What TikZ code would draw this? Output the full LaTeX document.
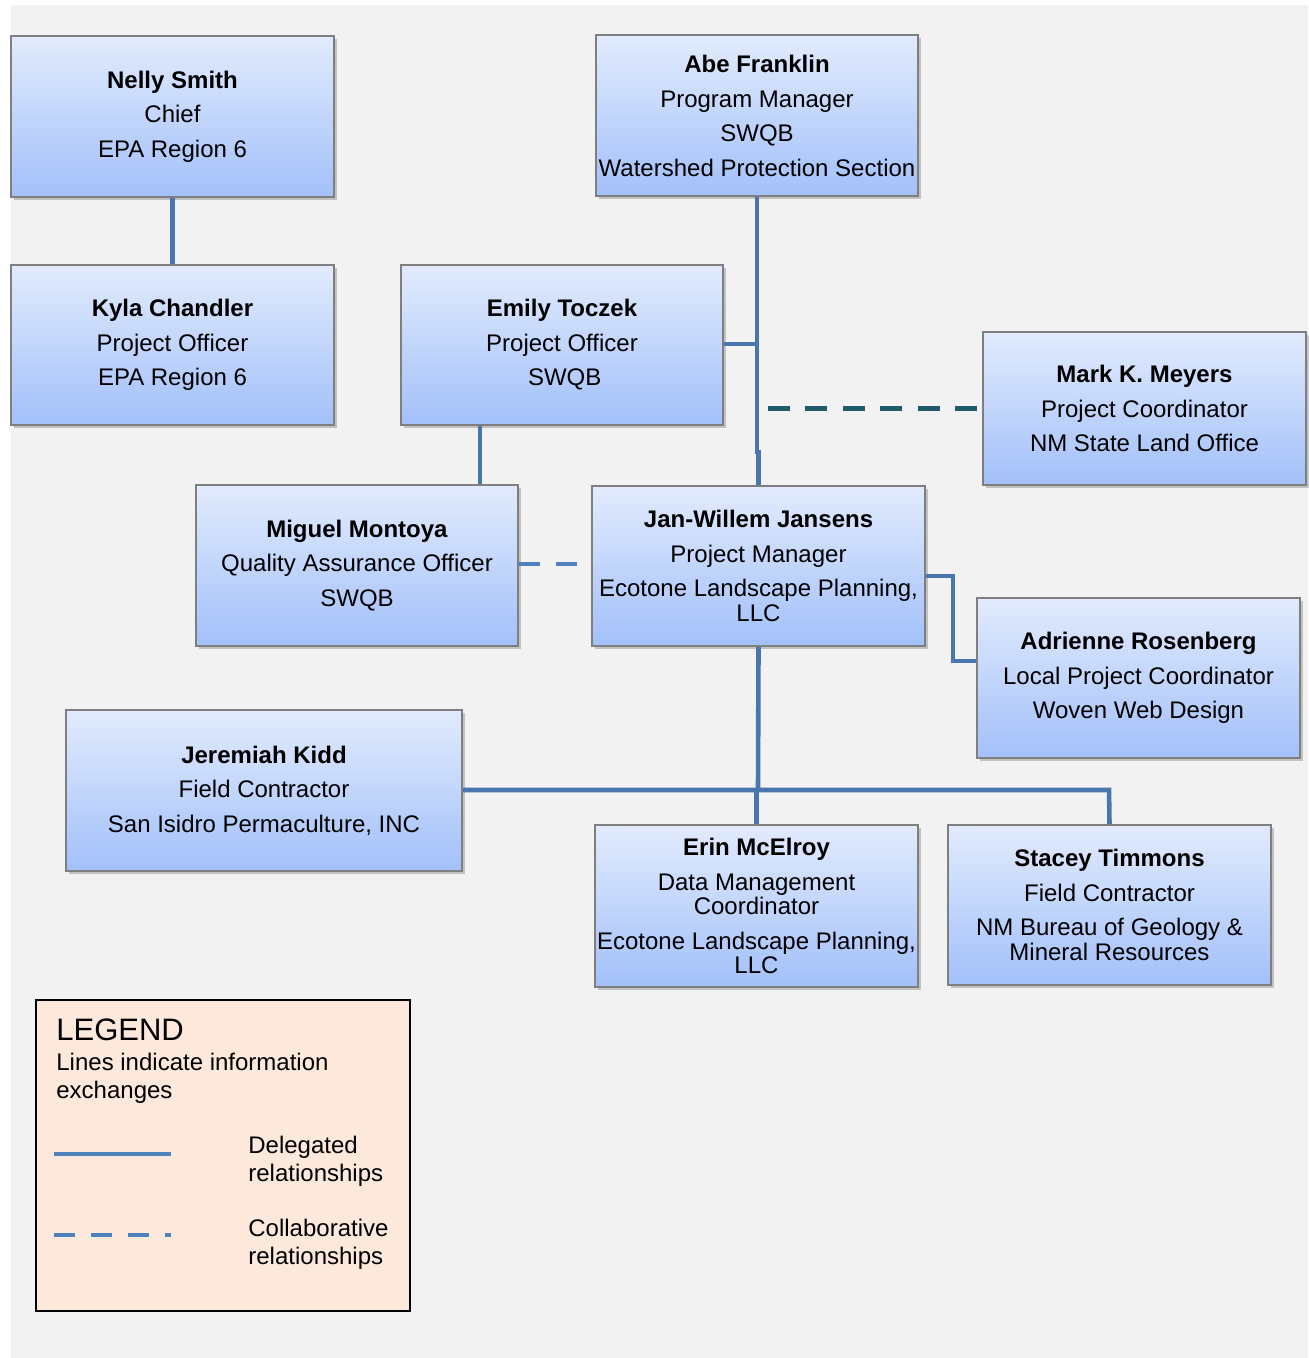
\documentclass[tikz,border=0pt]{standalone}
\usepackage{fontspec}
\setmainfont{Liberation Sans}
\usetikzlibrary{shadows}
\definecolor{bg}{HTML}{F2F2F2}
\definecolor{boxtop}{HTML}{E2EBFD}
\definecolor{boxbot}{HTML}{A2C0FA}
\definecolor{boxedge}{HTML}{7F7F7F}
\definecolor{lineblue}{HTML}{4A76AE}
\definecolor{legblue}{HTML}{4F81BD}
\definecolor{teal}{HTML}{215A6A}
\definecolor{legfill}{HTML}{FDE9DB}
\tikzset{
  orgbox/.style={draw=boxedge, line width=1pt, top color=boxtop, bottom color=boxbot,
    drop shadow={shadow xshift=1.5pt, shadow yshift=-1.5pt, opacity=0.35, fill=black!60},
    align=center, inner sep=0pt, font={\fontsize{12}{12.25}\selectfont}},
  deleg/.style={draw=lineblue, line width=2.3pt},
  collab/.style={draw=legblue, line width=2pt, dash pattern=on 10.5pt off 8pt},
  collabteal/.style={draw=teal, line width=2.5pt, dash pattern=on 11pt off 7.7pt},
}
\newcommand{\pgap}{\\[5pt]}
\begin{document}
\begin{tikzpicture}[x=0.5pt, y=-0.5pt]
\useasboundingbox (0,0) rectangle (1308,1358);
\fill[white] (0,0) rectangle (1308,1358);
\fill[bg] (11,5) rectangle (1308,1358);

% boxes
\node[orgbox, minimum width=161.5pt, minimum height=80.5pt] (nelly) at (172.5,116.5)
  {\textbf{Nelly Smith}\pgap Chief\pgap EPA Region 6};
\node[orgbox, minimum width=161.5pt, minimum height=80pt] (kyla) at (172.5,345)
  {\textbf{Kyla Chandler}\pgap Project Officer\pgap EPA Region 6};
\node[orgbox, minimum width=161pt, minimum height=80.5pt] (abe) at (757,116)
  {\textbf{Abe Franklin}\pgap Program Manager\pgap SWQB\pgap Watershed Protection Section};
\node[orgbox, minimum width=161pt, minimum height=80pt] (emily) at (562,345)
  {\textbf{Emily Toczek}\pgap Project Officer\pgap \phantom{i}SWQB};
\node[orgbox, minimum width=161.5pt, minimum height=76.5pt] (mark) at (1144.5,408.5)
  {\textbf{Mark K. Meyers}\pgap Project Coordinator\pgap NM State Land Office};
\node[orgbox, minimum width=161pt, minimum height=80.5pt] (miguel) at (357,565.5)
  {\textbf{Miguel Montoya}\pgap Quality Assurance Officer\pgap SWQB};
\node[orgbox, minimum width=166.5pt, minimum height=80pt] (jw) at (758.5,566)
  {\textbf{Jan-Willem Jansens}\pgap Project Manager\pgap Ecotone Landscape Planning,\\ LLC};
\node[orgbox, minimum width=161.5pt, minimum height=80pt] (adr) at (1138.5,678)
  {\textbf{Adrienne Rosenberg}\pgap Local Project Coordinator\pgap Woven Web Design};
\node[orgbox, minimum width=198pt, minimum height=80.5pt] (jer) at (264,790.5)
  {\textbf{Jeremiah Kidd}\pgap Field Contractor\pgap San Isidro Permaculture, INC};
\node[orgbox, minimum width=161.5pt, minimum height=81pt] (erin) at (756.5,906)
  {\textbf{Erin McElroy}\pgap Data Management\\ Coordinator\pgap Ecotone Landscape Planning,\\ LLC};
\node[orgbox, minimum width=161.5pt, minimum height=80pt] (stacey) at (1109.5,905)
  {\textbf{Stacey Timmons}\pgap Field Contractor\pgap NM Bureau of Geology \&\\ Mineral Resources};

% connectors
\draw[deleg] (nelly.south) -- (kyla.north);
\coordinate (abejog) at (757,452);
\draw[deleg] (abe.south) -- (abejog) -| (jw.north);
\coordinate (emjoin) at (757,344);
\draw[deleg] (emily.east |- emjoin) -- (emjoin);
\draw[deleg] (emily.south -| 480,0) -- (miguel.north -| 480,0);
\coordinate (markend) at (768,408);
\coordinate (markstop) at (978,408);
\draw[collabteal] (markend) -- (markstop);
\coordinate (migend) at (580,564);
\draw[collab] (miguel.east |- migend) -- (migend);
\draw[deleg] (jw.east |- 0,576) -- (953,576) |- (adr.west |- 0,661);
\coordinate (hub) at (758,790);
\draw[deleg] (jw.south) -- (hub);
\draw[deleg] (jer.east |- hub) -- (1109,790) -- (stacey.north);
\draw[deleg] (erin.north) -- (erin.north |- hub);

% legend
\node[draw=black, line width=1.2pt, fill=legfill, minimum width=187pt, minimum height=155.5pt, inner sep=0pt] (legend) at (223,1155.5) {};
\node[anchor=west, inner sep=0pt, font={\fontsize{15.5}{16}\selectfont}] (legtitle) at (56,1030) {LEGEND};
\node[anchor=north west, inner sep=0pt, align=left, font={\fontsize{12}{14}\selectfont}] (legsub) at (56,1053)
  {Lines indicate information\\ exchanges};
\coordinate (ls1) at (54,1154);
\coordinate (ls2) at (171,1154);
\draw[draw=legblue, line width=2pt] (ls1) -- (ls2);
\coordinate (ld1) at (54,1235);
\coordinate (ld2) at (171,1235);
\draw[collab] (ld1) -- (ld2);
\node[anchor=north west, inner sep=0pt, align=left, font={\fontsize{12}{14}\selectfont}] (legdel) at (248,1136)
  {Delegated\\ relationships};
\node[anchor=north west, inner sep=0pt, align=left, font={\fontsize{12}{14}\selectfont}] (legcol) at (248,1219)
  {Collaborative\\ relationships};
\end{tikzpicture}
\end{document}
